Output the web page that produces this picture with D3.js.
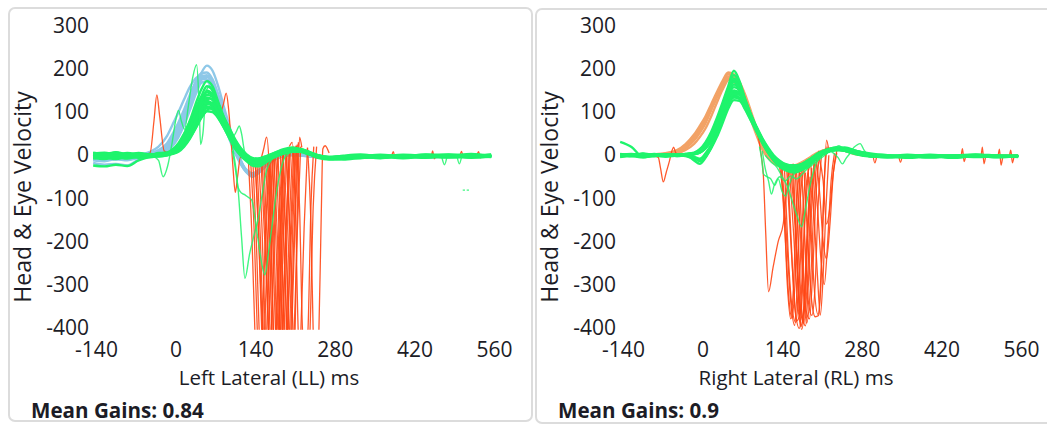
<!DOCTYPE html>
<html>
<head>
<meta charset="utf-8">
<script src="https://cdn.jsdelivr.net/npm/d3@7"></script>
<style>
  html, body { margin: 0; padding: 0; background: #ffffff; }
  svg { display: block; }
  text { font-family: "Open Sans", "Noto Sans", sans-serif; fill: #1c1c26; }
</style>
</head>
<body>
<svg id="chart" width="1047" height="425"></svg>
<script>
// ---- shared sampling grid (ms) for the bundled velocity traces ----
const timeGrid = [-145,-125,-105,-85,-65,-45,-30,-15,-5,5,15,25,35,45,55,65,75,85,95,105,115,125,135,145,160,175,190,205,220,235,250,270,295,325,360,400,440,480,520,555];

const xTicks = [-140, 0, 140, 280, 420, 560];
const yTicks = [300, 200, 100, 0, -100, -200, -300, -400];
const axisTitles = ["Left Lateral (LL) ms", "Right Lateral (RL) ms"];
const yTitle = "Head & Eye Velocity";
const meanGains = [0.84, 0.9];

// ---- Left Lateral: head velocity (deg/s) on timeGrid ----
const llHead = [
  [-5,-8,-3,-6,-2,0,4,14,30,52,82,118,155,190,208,196,160,112,66,22,-12,-38,-48,-40,-20,-6,2,4,2,0,-3,-6,-5,-4,-3,-3,-4,-3,-2,-3],
  [-18,-22,-20,-24,-10,-2,6,18,36,60,90,124,158,178,176,160,128,88,48,10,-20,-40,-46,-36,-18,-6,0,2,0,-2,-4,-6,-6,-5,-4,-3,-3,-4,-3,-2],
  [-2,0,-3,-1,2,8,20,45,72,100,130,158,178,186,175,150,114,74,36,4,-22,-40,-50,-42,-22,-8,0,3,1,-2,-5,-7,-5,-4,-3,-4,-3,-2,-3,-3],
  [-8,-6,-10,-7,-4,-2,2,10,22,42,70,104,140,168,172,156,124,84,44,8,-18,-34,-42,-36,-20,-8,-2,0,-1,-3,-5,-7,-6,-4,-4,-3,-4,-3,-2,-3],
  [-12,-14,-9,-12,-6,-2,3,12,26,48,76,110,146,174,182,170,138,98,58,18,-14,-36,-44,-38,-22,-10,-2,1,0,-2,-4,-6,-5,-5,-3,-3,-3,-3,-2,-2],
  [-4,-2,-6,-3,0,4,12,28,50,76,106,140,170,190,192,176,140,96,52,12,-18,-38,-46,-40,-22,-8,0,2,0,-2,-4,-6,-5,-4,-3,-3,-3,-3,-2,-3],
  [-10,-12,-8,-10,-5,-1,5,16,34,58,88,122,156,180,186,172,138,96,54,14,-16,-36,-44,-38,-20,-8,-1,2,0,-2,-4,-6,-6,-4,-3,-3,-4,-3,-2,-2],
  [-6,-4,-7,-5,-1,3,10,24,44,68,98,132,164,184,184,166,130,88,48,10,-18,-38,-48,-42,-24,-9,-1,2,0,-2,-5,-7,-6,-5,-4,-3,-3,-3,-3,-3]
];

// ---- Left Lateral: eye velocity on timeGrid ----
const llEye = [
  [-3,2,-4,1,-2,3,1,4,9,20,38,62,88,112,126,118,96,70,44,20,4,-8,-14,-12,-4,4,9,11,8,2,-3,-6,-4,-1,-5,-3,0,-4,-3,-2],
  [4,6,1,5,2,-1,3,2,6,14,30,52,78,102,118,116,98,74,50,28,10,-4,-12,-15,-9,0,6,10,10,4,-2,-7,-5,-2,-6,-1,-4,-2,0,-1],
  [-8,-5,-9,-4,-6,-3,-2,1,4,12,26,46,70,96,112,110,92,66,40,16,0,-12,-20,-22,-14,-2,8,14,12,5,-4,-9,-6,-7,-2,-6,-3,-2,-5,-3],
  [2,-1,3,-2,4,0,5,6,12,24,44,70,100,128,146,138,110,80,52,26,8,-6,-14,-16,-10,-2,6,12,14,8,0,-5,-1,2,-3,1,-1,2,-1,1],
  [-24,-26,-22,-25,-12,-4,0,3,8,18,34,56,84,108,122,114,92,68,42,18,2,-10,-18,-20,-12,-2,6,10,9,3,-3,-8,-6,-3,-2,-5,-3,-1,-4,-1],
  [6,3,7,2,5,2,4,6,14,28,50,78,108,136,160,150,120,86,56,30,10,-4,-12,-14,-8,2,10,14,12,6,-1,-6,-4,-3,1,-3,2,-2,3,-2],
  [-2,-6,-1,-5,0,-3,0,2,5,12,24,42,64,88,102,100,86,64,40,18,4,-8,-16,-18,-12,-4,4,8,8,4,-2,-6,-8,-4,-7,-2,-6,-3,-6,-2],
  [1,4,-2,3,-1,1,2,4,10,22,42,66,94,118,134,128,104,76,48,22,6,-8,-16,-16,-8,2,10,16,14,8,0,-4,-3,0,-1,-3,1,0,-2,2],
  [-5,-2,-6,0,-4,-1,-3,0,4,10,22,40,62,86,104,112,104,84,58,32,12,-2,-10,-12,-6,4,12,16,12,4,-4,-8,-10,-6,-3,-7,-3,-5,-3,-4],
  [3,0,4,-1,3,-2,2,5,10,20,38,60,86,110,124,120,100,74,48,24,8,-4,-10,-8,-2,6,12,14,10,2,-4,-8,-7,-4,-3,-2,-2,-1,-2,-1],
  [-1,3,-3,2,-2,2,-1,3,8,18,36,60,90,120,140,136,112,82,54,28,10,-4,-12,-14,-6,4,10,12,10,4,-2,-5,-2,-3,0,-3,-2,1,-1,-3],
  [0,-3,2,-2,1,-1,1,2,6,14,28,48,74,100,118,122,108,86,60,34,14,0,-8,-10,-6,2,8,12,11,6,0,-4,-4,-6,-2,-4,-1,-5,-2,-1],
  [-6,-9,-4,-8,-3,-5,-2,0,3,8,20,38,62,90,110,106,88,64,38,14,-2,-14,-24,-26,-16,-4,4,8,8,2,-6,-10,-8,-5,-3,-3,-2,-2,-2,-3],
  [5,2,6,1,4,1,3,5,11,22,40,64,92,116,130,132,114,88,62,36,16,2,-6,-8,-2,6,14,18,14,6,-2,-6,-5,-3,-2,-1,-2,-1,-2,-1],
  [2,0,3,-1,2,0,2,4,10,24,48,80,118,152,172,160,124,88,56,28,8,-6,-14,-14,-8,0,8,12,10,4,-2,-6,-4,-3,-2,-2,-3,-1,-2,-2],
  [-1,-4,0,-3,1,-2,0,3,7,16,32,54,80,106,120,118,100,76,50,26,8,-6,-14,-18,-10,0,8,12,10,4,-3,-7,-6,-4,-3,-1,-4,-2,-3,0],
  [3,1,5,0,3,1,1,4,9,20,40,66,96,124,150,142,114,82,52,26,6,-8,-16,-18,-10,0,8,14,12,6,-1,-5,-3,-1,-4,-2,-1,-3,0,-2]
];

// ---- Left Lateral: eye traces that leave the bundle, [ms, deg/s] ----
const llEyeStray = [
  [[-40,-2],[-30,-12],[-22,-50],[-14,-25],[-6,30],[0,80],[5,104],[10,80],[16,60],[22,110],[30,180],[37,210],[41,130],[44,25],[48,50],[54,150],[60,160],[68,140],[78,105]],
  [[100,10],[106,-40],[110,-81],[116,-190],[122,-286],[130,-230],[138,-185],[146,-143],[153,-85],[160,-35],[168,-12],[178,0]],
  [[100,20],[106,-30],[110,-75],[116,-88],[122,-92],[128,-98],[134,-104],[140,-150],[146,-205],[152,-255],[157,-278],[163,-230],[170,-160],[177,-90],[184,-40],[192,-5],[200,5]],
  [[95,60],[102,45],[107,55],[112,68],[116,50],[121,10],[128,-8]],
  [[468,-3],[473,-22],[477,-5]],
  [[495,-2],[499,-20],[503,-4]],
  [[505,-81],[509,-81]],
  [[512,-81],[516,-81]]
];

// ---- Left Lateral: saccade segments, [ms, deg/s] ----
const llSaccades = [
  [[-60,0],[-45,5],[-38,80],[-33,140],[-28,90],[-20,10],[-10,5]],
  [[78,92],[84,118],[89,144],[93,110],[97,45],[101,-30],[105,-86],[109,-50],[114,-5],[120,-8]],
  [[128,-12],[134,-180],[140,-430],[146,-600],[152,-430],[158,-180],[165,-10]],
  [[132,-14],[138,-170],[144,-420],[152,-560],[160,-420],[166,-160],[172,-8]],
  [[136,-15],[142,-200],[148,-440],[152,-520],[156,-430],[162,-190],[168,-8]],
  [[140,-15],[146,-180],[152,-430],[160,-620],[168,-430],[174,-170],[180,0]],
  [[143,-14],[149,-190],[155,-440],[159,-540],[163,-430],[169,-180],[175,-2]],
  [[146,-12],[152,-170],[158,-420],[167,-600],[176,-420],[182,-160],[188,5]],
  [[150,-10],[155,15],[160,42],[165,-40],[170,-300],[176,-560],[182,-400],[186,-150],[190,5]],
  [[152,-10],[158,-180],[164,-430],[173,-580],[182,-430],[188,-170],[194,8]],
  [[155,-9],[161,-200],[167,-440],[172,-540],[178,-430],[184,-190],[190,6]],
  [[158,-8],[164,-180],[170,-430],[179,-600],[188,-430],[194,-170],[200,12]],
  [[161,-7],[167,-190],[173,-440],[178,-520],[184,-430],[190,-180],[196,10]],
  [[164,-6],[170,-170],[176,-420],[185,-620],[194,-420],[200,-160],[206,15]],
  [[167,-5],[173,-200],[179,-450],[184,-540],[190,-440],[196,-190],[202,15]],
  [[170,-4],[176,-180],[182,-430],[191,-600],[200,-430],[206,-170],[212,22]],
  [[173,-2],[179,-190],[185,-440],[190,-520],[196,-430],[202,-180],[208,20]],
  [[176,0],[182,-170],[188,-420],[196,-580],[204,-420],[210,-160],[216,30]],
  [[180,2],[186,-200],[192,-450],[197,-540],[202,-440],[208,-190],[214,25]],
  [[184,4],[190,-180],[196,-430],[203,-580],[210,-420],[214,-140],[218,42],[222,18]],
  [[188,6],[194,-190],[200,-440],[204,-520],[208,-430],[214,-180],[220,20]],
  [[195,10],[201,-180],[207,-430],[213,-560],[220,-420],[226,-170],[232,18]],
  [[200,20],[205,30],[210,-80],[216,-420],[226,-560],[236,-420],[242,-120],[248,20]],
  [[212,22],[218,-120],[223,-400],[228,-480],[233,-400],[238,-120],[243,20]],
  [[232,16],[238,-160],[242,-410],[247,-520],[252,-410],[256,-150],[259,15],[263,22],[270,5]],
  [[140,-15],[148,-250],[156,-480],[170,-560],[184,-480],[192,-250],[200,8]],
  [[150,-10],[158,-230],[166,-470],[180,-560],[194,-470],[202,-230],[210,15]],
  [[380,-2],[383,8],[386,-6],[389,2]],
  [[450,-3],[452,10],[455,-8],[458,0]],
  [[500,-2],[503,9],[506,-5],[509,-1]],
  [[530,0],[533,8],[536,-6],[539,-1]]
];

// ---- Right Lateral: head velocity on timeGrid ----
const rlHead = [
  [-2,0,-2,1,4,10,24,44,62,82,112,140,165,188,182,160,126,90,54,22,0,-14,-22,-26,-26,-18,-6,6,14,16,12,4,-1,-3,-2,-2,-1,-2,-1,-2],
  [0,2,-1,2,2,6,16,34,52,74,104,134,162,182,186,168,134,96,58,24,2,-12,-20,-24,-24,-16,-4,8,14,16,12,4,0,-2,-2,-1,-2,-1,-2,-1],
  [-3,-1,-3,0,1,4,12,26,42,62,90,122,152,176,184,170,140,102,62,26,2,-12,-20,-24,-26,-18,-6,6,12,14,10,3,-1,-3,-2,-2,-2,-2,-1,-2],
  [1,0,2,0,3,8,20,38,56,78,108,136,160,176,170,150,118,82,46,14,-6,-18,-26,-28,-28,-20,-8,4,12,14,10,2,-2,-3,-2,-2,-2,-1,-2,-1],
  [-1,1,-1,2,5,12,26,48,68,90,118,146,172,192,188,164,128,90,52,18,-4,-16,-24,-26,-26,-18,-6,6,14,16,12,4,-1,-2,-2,-1,-2,-2,-1,-2]
];

// ---- Right Lateral: eye velocity on timeGrid ----
const rlEye = [
  [0,2,-2,1,-1,2,0,3,6,16,34,60,92,128,150,140,112,84,56,30,8,-10,-22,-28,-30,-24,-10,4,12,14,10,2,-3,-4,-2,-5,-2,-1,-5,-2],
  [-3,0,-4,-1,-3,0,-2,-8,-10,4,24,52,86,122,140,132,108,82,56,32,12,-6,-18,-26,-32,-28,-14,2,10,14,12,4,-2,-3,-6,-2,-4,-2,-2,-4],
  [31,19,-4,-2,1,-1,2,4,10,24,46,76,110,148,178,160,124,90,60,32,10,-8,-20,-28,-34,-30,-16,0,10,16,14,6,-1,-3,-2,0,-1,2,-1,-2],
  [2,-1,3,0,2,-1,1,-12,-20,-6,18,48,84,118,136,130,110,86,60,34,14,-4,-16,-24,-30,-26,-14,0,8,12,12,6,0,-2,-3,-2,-2,-3,-1,-2],
  [-2,1,-1,2,0,1,3,6,14,30,54,86,122,160,196,172,126,88,56,28,6,-12,-26,-34,-40,-34,-18,-2,8,14,14,8,0,-3,-5,-2,-6,-2,-4,-1],
  [1,-2,2,-1,1,-2,0,2,8,20,40,68,100,134,158,150,122,92,62,34,12,-6,-20,-30,-38,-34,-20,-4,8,16,18,10,2,-2,-2,-3,-2,-2,-2,-2],
  [-1,2,0,3,-1,1,-1,-6,-14,-4,16,42,74,108,128,126,106,80,54,30,10,-8,-20,-26,-28,-22,-10,4,12,16,12,4,-2,-5,-2,-1,-3,-2,-3,-2],
  [3,0,4,1,2,0,2,5,12,26,48,78,112,150,174,160,128,94,62,34,12,-6,-18,-24,-26,-20,-8,6,14,18,16,8,1,0,-2,1,-2,1,-2,-1],
  [-4,-2,-5,-1,-3,-1,0,3,8,18,36,62,94,128,146,142,118,90,62,36,14,-4,-16,-22,-24,-20,-8,4,10,12,10,4,-2,-4,-3,-5,-2,-4,-3,-3],
  [0,3,-1,2,0,2,1,4,9,22,42,70,104,140,164,152,120,88,58,30,8,-10,-24,-32,-36,-30,-16,-2,8,14,16,10,2,-1,-2,-2,-2,-3,-2,-2],
  [2,-2,1,-2,2,0,-1,2,6,16,32,56,86,118,134,132,114,90,64,38,16,-2,-14,-22,-26,-22,-10,2,10,14,12,6,0,-2,1,-2,-1,0,-1,-2],
  [-2,1,-3,0,-2,1,2,4,10,24,46,76,112,152,186,168,130,94,60,30,6,-12,-26,-34,-38,-30,-14,2,10,14,12,4,-2,-3,-2,-3,-2,-2,-2,-2],
  [1,-1,2,-2,1,-1,2,3,7,18,38,64,96,130,150,146,122,94,66,40,18,0,-12,-20,-24,-22,-12,0,8,12,14,10,4,0,-2,-2,-2,-2,-2,-1],
  [-1,1,-2,1,0,-2,0,-4,-8,2,20,48,82,118,142,140,118,90,62,36,14,-4,-18,-28,-34,-28,-12,2,10,14,12,4,-2,-4,-3,-4,-3,-3,-3,-2],
  [2,0,3,-1,2,1,3,4,10,22,44,74,108,146,170,156,124,92,62,34,12,-8,-22,-30,-32,-26,-12,2,12,18,16,8,0,-2,-1,-2,0,-2,-1,-2]
];

// ---- Right Lateral: eye traces that leave the bundle ----
const rlEyeStray = [
  [[110,0],[120,-15],[130,-27],[140,-50],[150,-75],[157,-104],[166,-140],[174,-166],[181,-125],[189,-70],[198,-25],[210,0],[220,8]],
  [[100,20],[104,-10],[107,-43],[113,-50],[120,-55],[127,-70],[133,-55],[140,-85],[146,-95],[152,-70],[160,-45],[172,-35],[185,-30],[200,-15],[215,0],[230,15]],
  [[105,10],[110,-30],[116,-60],[121,-90],[126,-70],[136,-50],[145,-60],[155,-48],[165,-55],[178,-40],[192,-20],[208,0]],
  [[230,14],[240,22],[250,10],[258,6],[266,18],[277,27],[284,12],[292,0],[300,-2]],
  [[225,10],[238,-5],[246,-20],[252,-8],[260,5]]
];

// ---- Right Lateral: saccade segments ----
const rlSaccades = [
  [[-85,-2],[-78,-5],[-74,-30],[-69,-62],[-64,-40],[-58,-12],[-54,10],[-51,19],[-47,5],[-40,0]],
  [[95,60],[102,10],[107,-50],[111,-180],[116,-317],[124,-260],[133,-200],[142,-158],[148,-80],[153,-30],[160,-20]],
  [[135,-25],[143,-120],[149,-300],[155,-380],[160,-300],[165,-120],[170,-40]],
  [[138,-28],[145,-180],[151,-320],[157,-379],[162,-310],[167,-150],[172,-40]],
  [[140,-30],[148,-200],[155,-340],[162,-395],[167,-280],[172,-100],[177,-35]],
  [[144,-32],[151,-240],[157,-350],[164,-388],[169,-320],[175,-160],[181,-40]],
  [[148,-35],[156,-220],[163,-360],[170,-402],[175,-330],[180,-150],[186,-40]],
  [[150,-35],[158,-260],[165,-385],[171,-370],[177,-220],[183,-60],[190,-20]],
  [[153,-36],[160,-180],[167,-340],[173,-398],[178,-350],[183,-200],[189,-50]],
  [[155,-35],[162,-150],[168,-300],[173,-395],[178,-360],[184,-200],[190,-60]],
  [[158,-38],[165,-200],[172,-360],[178,-390],[184,-300],[190,-120],[196,-20]],
  [[160,-35],[167,-280],[174,-405],[180,-340],[186,-150],[192,-30]],
  [[163,-36],[169,-220],[175,-370],[181,-396],[186,-300],[192,-120],[198,-15]],
  [[165,-34],[172,-180],[178,-330],[183,-390],[189,-320],[195,-140],[201,-10],[205,10]],
  [[170,-30],[176,-240],[182,-360],[188,-380],[194,-260],[200,-80],[206,5]],
  [[174,-28],[180,-200],[186,-340],[192,-372],[198,-300],[203,-120],[209,0]],
  [[178,-25],[185,-200],[192,-340],[198,-375],[204,-372],[209,-250],[214,-60],[219,20]],
  [[185,-20],[191,-180],[197,-320],[203,-370],[208,-300],[213,-100],[218,35],[222,10]],
  [[190,-15],[196,-140],[202,-280],[207,-371],[212,-280],[217,-120],[222,0]],
  [[195,-10],[202,-120],[208,-240],[214,-300],[220,-200],[226,-60],[232,5]],
  [[200,-8],[206,-90],[212,-200],[218,-240],[224,-160],[230,-40],[236,10]],
  [[205,-5],[212,-60],[218,-160],[224,-120],[230,-40],[236,5]],
  [[300,-3],[303,-18],[306,-4]],
  [[345,-2],[348,-16],[351,-3]],
  [[455,0],[457,15],[460,-15],[463,0]],
  [[490,-2],[492,19],[495,-20],[498,0]],
  [[520,0],[522,14],[525,-23],[528,-2]],
  [[540,1],[542,12],[545,-18],[548,0]]
];

// ---- drawing ----
const svg = d3.select("#chart");

const x = d3.scaleLinear().domain([-140, 560]).range([96, 494]);
const y = d3.scaleLinear().domain([-400, 300]).range([327.5, 26]);

const trace = d3.line()
  .x(d => x(d[0]))
  .y(d => y(d[1]))
  .curve(d3.curveMonotoneX);

const onGrid = vals => timeGrid.map((t, i) => [t, vals[i]]);

svg.append("defs").append("clipPath").attr("id", "plotClip")
  .append("rect")
  .attr("x", x(-150)).attr("y", y(320))
  .attr("width", x(570) - x(-150))
  .attr("height", y(-405) - y(320));

const panels = [
  { dx: 0, frame: [9, 8, 523, 413], head: llHead, headColor: "#8ec8e8",
    eye: llEye, stray: llEyeStray, sacc: llSaccades, title: axisTitles[0], gain: meanGains[0] },
  { dx: 527, frame: [536, 9, 530, 414], head: rlHead, headColor: "#f2a266",
    eye: rlEye, stray: rlEyeStray, sacc: rlSaccades, title: axisTitles[1], gain: meanGains[1] }
];

const EYE = "#1ef46c";
const SACC = "#ff4614";

panels.forEach(p => {
  svg.append("rect")
    .attr("x", p.frame[0]).attr("y", p.frame[1])
    .attr("width", p.frame[2]).attr("height", p.frame[3])
    .attr("rx", 6).attr("ry", 6)
    .attr("fill", "none")
    .attr("stroke", "#dcdcdc")
    .attr("stroke-width", 2);

  const g = svg.append("g").attr("transform", `translate(${p.dx},0)`);

  // y axis (plain hyphen for negatives)
  const gy = g.append("g")
    .attr("transform", `translate(${x(-140)},0)`)
    .call(d3.axisLeft(y).tickValues(yTicks).tickFormat(d => String(d)).tickSize(0).tickPadding(7));
  gy.attr("font-family", null).attr("font-size", null);
  gy.select(".domain").remove();
  gy.selectAll("text").style("font-size", "21px");

  // x axis
  const gx = g.append("g")
    .attr("transform", `translate(0,${y(-400)})`)
    .call(d3.axisBottom(x).tickValues(xTicks).tickFormat(d => String(d)).tickSize(0).tickPadding(15));
  gx.attr("font-family", null).attr("font-size", null);
  gx.select(".domain").remove();
  gx.selectAll("text").style("font-size", "21px");

  // traces: head, saccades, eye bundle, stray eye traces
  const plot = g.append("g").attr("clip-path", "url(#plotClip)").attr("fill", "none");

  plot.append("g").selectAll("path").data(p.head).join("path")
    .attr("d", v => trace(onGrid(v)))
    .attr("stroke", p.headColor)
    .attr("stroke-width", 2.4)
    .attr("stroke-linejoin", "round");

  plot.append("g").selectAll("path").data(p.sacc).join("path")
    .attr("d", trace)
    .attr("stroke", SACC)
    .attr("stroke-width", 1.3)
    .attr("stroke-opacity", 0.9);

  plot.append("g").selectAll("path").data(p.eye).join("path")
    .attr("d", v => trace(onGrid(v)))
    .attr("stroke", EYE)
    .attr("stroke-width", 2.4)
    .attr("stroke-linejoin", "round");

  plot.append("g").selectAll("path").data(p.stray).join("path")
    .attr("d", trace)
    .attr("stroke", EYE)
    .attr("stroke-width", 1.4)
    .attr("stroke-opacity", 0.85);

  // titles
  g.append("text")
    .attr("x", 269).attr("y", 385)
    .attr("text-anchor", "middle")
    .style("font-size", "20.5px")
    .text(p.title);

  g.append("text")
    .attr("transform", "translate(31,197) rotate(-90)")
    .attr("text-anchor", "middle")
    .style("font-size", "23px")
    .text(yTitle);

  g.append("text")
    .attr("x", 31).attr("y", 418)
    .style("font-size", "20.6px")
    .style("font-weight", 700)
    .text(`Mean Gains: ${p.gain}`);
});
</script>
</body>
</html>
